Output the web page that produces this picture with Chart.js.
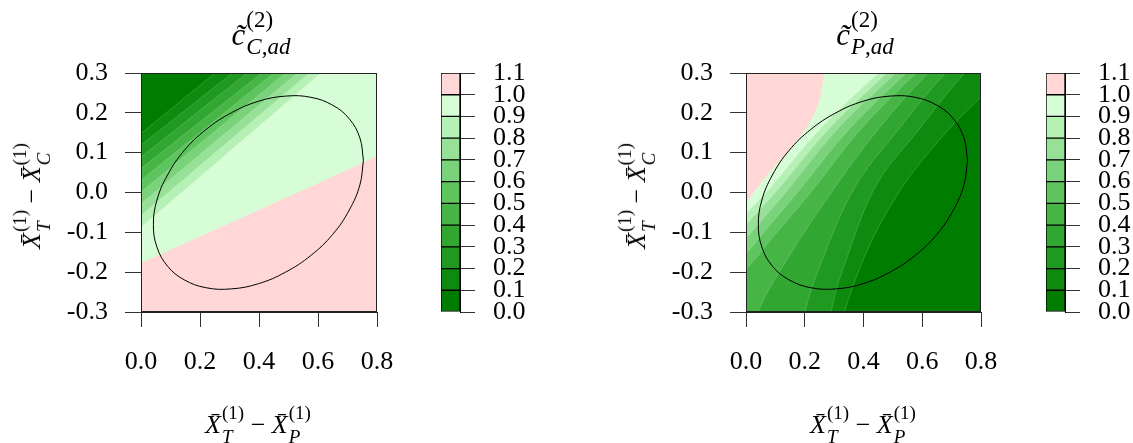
<!DOCTYPE html>
<html><head><meta charset="utf-8">
<script src="https://cdn.jsdelivr.net/npm/chart.js@4.4.1/dist/chart.umd.min.js"></script>
<style>
html,body{margin:0;padding:0;background:#fff;}
body{width:1133px;height:443px;position:relative;overflow:hidden;font-family:'Liberation Serif',serif;}
canvas{position:absolute;top:0;}
.math{position:absolute;white-space:nowrap;line-height:1;color:#000;font-family:'Liberation Serif',serif;}
.math i{font-style:italic;}
.ss{display:inline-flex;flex-direction:column;align-items:flex-start;}
.ss>span{display:block;}
.t{font-size:31px;}
.t .ss{font-size:23px;line-height:27px;vertical-align:18px;margin-left:1px;}
.a{font-size:26px;}
.a .ss{font-size:19px;line-height:24px;vertical-align:14px;margin-left:1px;}
</style></head>
<body>
<canvas id="h1" width="420" height="443" style="left:0px"></canvas>
<canvas id="c1" width="140" height="443" style="left:420px"></canvas>
<canvas id="h2" width="470" height="443" style="left:560px"></canvas>
<canvas id="c2" width="103" height="443" style="left:1030px"></canvas>

<div class="math t" style="left:261px;top:6px;transform:translateX(-50%)"><i>c&#771;</i><span class="ss"><span>(2)</span><span><i>C</i>,<i>ad</i></span></span></div>
<div class="math t" style="left:865px;top:6px;transform:translateX(-50%)"><i>c&#771;</i><span class="ss"><span>(2)</span><span><i>P</i>,<i>ad</i></span></span></div>

<div class="math a" style="left:258px;top:401px;transform:translateX(-50%)"><i>X&#772;</i><span class="ss"><span>(1)</span><span><i>T</i></span></span> &#8722; <i>X&#772;</i><span class="ss"><span>(1)</span><span><i>P</i></span></span></div>
<div class="math a" style="left:863px;top:401px;transform:translateX(-50%)"><i>X&#772;</i><span class="ss"><span>(1)</span><span><i>T</i></span></span> &#8722; <i>X&#772;</i><span class="ss"><span>(1)</span><span><i>P</i></span></span></div>

<div class="math a" style="left:32px;top:196px;transform:translate(-50%,-50%) rotate(-90deg)"><i>X&#772;</i><span class="ss"><span>(1)</span><span><i>T</i></span></span> &#8722; <i>X&#772;</i><span class="ss"><span>(1)</span><span><i>C</i></span></span></div>
<div class="math a" style="left:637px;top:196px;transform:translate(-50%,-50%) rotate(-90deg)"><i>X&#772;</i><span class="ss"><span>(1)</span><span><i>T</i></span></span> &#8722; <i>X&#772;</i><span class="ss"><span>(1)</span><span><i>C</i></span></span></div>

<script>
// ---- ticks / legend ----
const xTicks = [0, 0.2, 0.4, 0.6, 0.8];
const yTicks = [-0.3, -0.2, -0.1, 0, 0.1, 0.2, 0.3];
const legendBreaks = [0, 0.1, 0.2, 0.3, 0.4, 0.5, 0.6, 0.7, 0.8, 0.9, 1.0, 1.1];
const bandColors = ['#007d00', '#0e8b0e', '#1f991f', '#31a731', '#46b546', '#5ec45e',
                    '#7ad27a', '#97e097', '#b5f0b5', '#d7fdd7', '#ffd7d7'];

// ---- confidence ellipse ----
const ellipseX = [0.754,0.742,0.706,0.650,0.576,0.490,0.398,0.306,0.220,0.146,0.090,0.054,0.042,
                  0.054,0.090,0.146,0.220,0.306,0.398,0.490,0.576,0.650,0.706,0.742,0.754];
const ellipseY = [0.081,0.137,0.185,0.219,0.239,0.242,0.229,0.200,0.158,0.105,0.044,-0.019,-0.081,
                  -0.137,-0.185,-0.219,-0.239,-0.242,-0.229,-0.200,-0.158,-0.105,-0.044,0.019,0.081];

// ---- left panel (c~_C,ad) contour lines, level boundaries [x, y] ----
const cadBase = [[-0.1,-0.6],[0.9,-0.6]];
const cadL10 = [[-0.1,-0.211],[0,-0.177],[0.37,-0.054],[0.748,0.073],[0.8,0.092],[0.9,0.13]];
const cadL09 = [[-0.1,-0.150],[0,-0.087],[0.61,0.3],[0.76,0.395]];
const cadL08 = [[-0.1,-0.121],[0,-0.058],[0.57,0.3],[0.72,0.39]];
const cadL07 = [[-0.1,-0.090],[0,-0.028],[0.53,0.3],[0.68,0.39]];
const cadL06 = [[-0.1,-0.060],[0,0.001],[0.49,0.3],[0.64,0.39]];
const cadL05 = [[-0.1,-0.029],[0,0.031],[0.45,0.3],[0.6,0.39]];
const cadL04 = [[-0.1,0.002],[0,0.060],[0.41,0.3],[0.55,0.38]];
const cadL03 = [[-0.1,0.030],[0,0.089],[0.36,0.3],[0.5,0.38]];
const cadL02 = [[-0.1,0.061],[0,0.119],[0.31,0.3],[0.45,0.38]];
const cadL01 = [[-0.1,0.087],[0,0.148],[0.251,0.3],[0.4,0.39]];

// ---- right panel (c~_P,ad) contour lines ----
const padBase = [[-0.1,-0.6],[0.9,-0.6]];
const padL01 = [[-0.1,-1.2],[0.30,-0.4],[0.335,-0.3],[0.41,-0.15],[0.52,0],[0.68,0.15],[0.8,0.24],[0.9,0.31]];
const padL02 = [[-0.1,-1.4],[0.27,-0.4],[0.29,-0.3],[0.35,-0.15],[0.43,0],[0.58,0.15],[0.745,0.3],[0.85,0.37]];
const padL03 = [[-0.1,-1.2],[0.17,-0.4],[0.2,-0.3],[0.27,-0.15],[0.36,0],[0.51,0.15],[0.68,0.3],[0.8,0.38]];
const padL04 = [[-0.1,-0.6],[0.0,-0.38],[0.04,-0.3],[0.155,-0.15],[0.29,0],[0.44,0.15],[0.62,0.3],[0.74,0.38]];
const padL05 = [[-0.15,-0.4],[-0.1,-0.3],[0.05,-0.15],[0.22,0],[0.38,0.15],[0.58,0.3],[0.7,0.38]];
const padL06 = [[-0.2,-0.4],[-0.15,-0.3],[0.005,-0.15],[0.175,0],[0.34,0.15],[0.545,0.3],[0.66,0.38]];
const padL07 = [[-0.25,-0.4],[-0.2,-0.3],[-0.04,-0.15],[0.135,0],[0.30,0.15],[0.51,0.3],[0.63,0.38]];
const padL08 = [[-0.3,-0.4],[-0.25,-0.3],[-0.085,-0.15],[0.10,0],[0.27,0.15],[0.48,0.3],[0.6,0.38]];
const padL09 = [[-0.35,-0.4],[-0.3,-0.3],[-0.13,-0.15],[0.068,0],[0.24,0.15],[0.45,0.3],[0.57,0.38]];
const padL10 = [[-0.15,-0.2],[0,-0.026],[0.079,0.049],[0.166,0.124],[0.228,0.191],[0.253,0.242],[0.266,0.3],[0.28,0.4]];

const FONT = {family:"'Liberation Serif', serif", size:26};
const SEAM = 'rgba(255,255,255,0.22)';

const boxPlugin = {
  id:'box',
  afterDatasetsDraw(chart){
    const a = chart.chartArea, ctx = chart.ctx;
    ctx.save(); ctx.strokeStyle = '#222'; ctx.lineWidth = 1;
    ctx.strokeRect(Math.round(a.left)+0.5, Math.round(a.top)+0.5, Math.round(a.right-a.left)-1, Math.round(a.bottom-a.top)-1);
    ctx.restore();
  }
};

function bandDataset(pts, color, order, seam, smooth){
  const ds = {data: pts.map(p => ({x:p[0], y:p[1]})), fill:'end', backgroundColor: color,
          borderColor: seam ? SEAM : 'rgba(0,0,0,0)', borderWidth: seam ? 0.8 : 0,
          pointRadius:0, tension: 0, order: order};
  if (smooth) { ds.cubicInterpolationMode = 'monotone'; ds.tension = 0.4; }
  return ds;
}
function ellipseDataset(){
  return {data: ellipseX.map((x,i) => ({x:x, y:ellipseY[i]})), fill:false, borderColor:'#000',
          borderWidth:1, pointRadius:0, tension:0.4, order:0};
}

function heatChart(id, datasets, yWidth, padRight){
  return new Chart(document.getElementById(id), {
    type:'line',
    data:{datasets: datasets},
    options:{
      responsive:false, animation:false, events:[],
      layout:{padding:{left:0, right:padRight, top:73, bottom:0}},
      plugins:{legend:{display:false}, tooltip:{enabled:false}, filler:{propagate:false}},
      scales:{
        x:{type:'linear', min:0, max:0.8,
           afterFit: s => { s.height = 131; },
           afterBuildTicks: s => { s.ticks = xTicks.map(v => ({value:v})); },
           ticks:{callback: v => Number(v).toFixed(1), font:FONT, color:'#000', padding:20, maxRotation:0, autoSkip:false},
           grid:{drawOnChartArea:false, drawTicks:true, tickLength:15, color:'#333'},
           border:{display:true, color:'#222'}},
        y:{type:'linear', min:-0.3, max:0.3,
           afterFit: s => { s.width = yWidth; },
           afterBuildTicks: s => { s.ticks = yTicks.map(v => ({value:v})); },
           ticks:{callback: v => Number(v).toFixed(1), font:FONT, color:'#000', padding:17, autoSkip:false},
           grid:{drawOnChartArea:false, drawTicks:true, tickLength:16, color:'#333'},
           border:{display:true, color:'#222'}}
      }
    },
    plugins:[boxPlugin]
  });
}

function colorbar(id, padLeft, yWidth){
  return new Chart(document.getElementById(id), {
    type:'bar',
    data:{labels:[''], datasets: bandColors.map((c,i) => ({
      data:[[legendBreaks[i], legendBreaks[i+1]]], backgroundColor:c, borderColor:'#000',
      borderWidth:1, borderSkipped:false, grouped:false, categoryPercentage:1, barPercentage:1}))},
    options:{
      responsive:false, animation:false, events:[],
      layout:{padding:{left:padLeft, right:0, top:73, bottom:131}},
      plugins:{legend:{display:false}, tooltip:{enabled:false}},
      scales:{
        x:{display:false},
        y:{position:'right', min:0, max:1.1,
           afterFit: s => { s.width = yWidth; },
           afterBuildTicks: s => { s.ticks = legendBreaks.map(v => ({value:v})); },
           ticks:{callback: v => Number(v).toFixed(1), font:FONT, color:'#000', padding:18, autoSkip:false},
           grid:{drawOnChartArea:false, drawTicks:true, tickLength:15, color:'#333'},
           border:{display:true, color:'#000'}}
      }
    }
  });
}

// left: value grows toward bottom-right; paint pink then lower bands above each boundary
const cadLines = [cadL10, cadL09, cadL08, cadL07, cadL06, cadL05, cadL04, cadL03, cadL02, cadL01];
const cadSets = [bandDataset(cadBase, bandColors[10], 30, false, false)];
cadLines.forEach((l,i) => cadSets.push(bandDataset(l, bandColors[9-i], 29-i, i>0, false)));
cadSets.push(ellipseDataset());
heatChart('h1', cadSets, 141, 43);

// right: value grows toward top-left; paint dark green then higher bands above each boundary
const padLines = [padL01, padL02, padL03, padL04, padL05, padL06, padL07, padL08, padL09, padL10];
const padSets = [bandDataset(padBase, bandColors[0], 30, false, false)];
padLines.forEach((l,i) => padSets.push(bandDataset(l, bandColors[i+1], 29-i, i<9, true)));
padSets.push(ellipseDataset());
heatChart('h2', padSets, 186, 49);

colorbar('c1', 21, 100);
colorbar('c2', 16, 68);
</script>
</body></html>
